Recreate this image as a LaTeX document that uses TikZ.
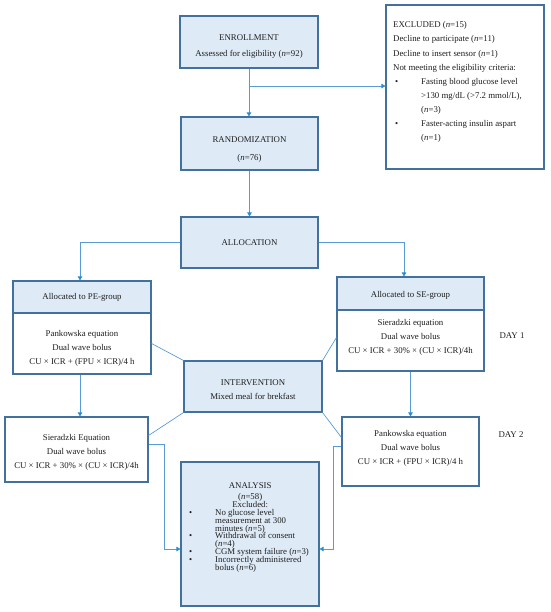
\documentclass[tikz,border=0pt]{standalone}
\usepackage{fontspec}
\setmainfont{Liberation Serif}
\usetikzlibrary{arrows.meta,calc}
\definecolor{boxline}{RGB}{65,113,156}
\definecolor{boxfill}{RGB}{222,235,247}
\definecolor{connc}{RGB}{91,155,213}
\definecolor{tipc}{RGB}{40,140,210}
\definecolor{txtc}{RGB}{30,30,30}
\newcommand\mytightfont{\fontsize{8.8}{7.9}\selectfont\lineskiplimit=-8pt\relax}
\begin{document}
\begin{tikzpicture}[x=1pt,y=-1pt,
  every node/.style={font=\fontsize{8.8}{14}\selectfont, text=txtc},
  bluebox/.style={draw=boxline, line width=1.1pt, fill=boxfill, rectangle, inner sep=0pt},
  whitebox/.style={bluebox, fill=white},
  plain/.style={inner sep=0pt, align=left},
  boxtext/.style={inner sep=0pt, align=center, yshift=-2.5pt},
  conn/.style={draw=connc, line width=0.7pt},
  arr/.style={conn, -{Triangle[width=4.5pt,length=4pt,color=tipc]}}]
\useasboundingbox (0,0) rectangle (550,612);

% boxes
\node[bluebox, minimum width=138pt, minimum height=52pt] (enroll) at (249,42) {};
\node[boxtext] (enrollT) at (249,44)
  {ENROLLMENT\\[2pt]Assessed for eligibility (\textit{n}=92)};
\node[bluebox, minimum width=137pt, minimum height=53pt] (rand) at (249.5,143.5) {};
\node[boxtext] (randT) at (249.5,147)
  {RANDOMIZATION\\[4pt](\textit{n}=76)};
\node[whitebox, minimum width=158pt, minimum height=164pt] (excl) at (465,87) {};
\node[plain, anchor=north west, font=\fontsize{8.8}{14.1}\selectfont] (excltxt) at (393,21.5)
  {EXCLUDED (\textit{n}=15)\\
   Decline to participate (\textit{n}=11)\\
   Decline to insert sensor (\textit{n}=1)\\
   Not meeting the eligibility criteria:\\
   \hspace*{2pt}\makebox[26pt][l]{\textbullet}Fasting blood glucose level\\
   \hspace*{28pt}>130 mg/dL (>7.2 mmol/L),\\
   \hspace*{28pt}(\textit{n}=3)\\
   \hspace*{2pt}\makebox[26pt][l]{\textbullet}Faster-acting insulin aspart\\
   \hspace*{28pt}(\textit{n}=1)};

\node[bluebox, minimum width=137pt, minimum height=51pt] (alloc) at (249.5,242.5) {};
\node[boxtext, yshift=2pt] (allocT) at (alloc) {ALLOCATION};

\node[bluebox, minimum width=138pt, minimum height=32pt] (pehead) at (82,297) {};
\node[boxtext, yshift=2pt] (peheadT) at (pehead) {Allocated to PE-group};
\node[whitebox, minimum width=138pt, minimum height=61pt] (pebody) at (82,343.5) {};
\node[boxtext] (pebodyT) at (82,346)
  {Pankowska equation\\Dual wave bolus\\CU × ICR + (FPU × ICR)/4 h};

\node[bluebox, minimum width=147pt, minimum height=33pt] (sehead) at (410.5,293.5) {};
\node[boxtext, yshift=2pt] (seheadT) at (410.5,295) {Allocated to SE-group};
\node[whitebox, minimum width=147pt, minimum height=61pt] (sebody) at (410.5,340.5) {};
\node[boxtext] (sebodyT) at (410.5,335)
  {Sieradzki equation\\Dual wave bolus\\CU × ICR + 30\% × (CU × ICR)/4h};
\node[plain] (day1) at (512,336) {DAY 1};

\node[bluebox, minimum width=138pt, minimum height=51pt] (interv) at (253,386.5) {};
\node[boxtext] (intervT) at (253,387)
  {INTERVENTION\\Mixed meal for brekfast};

\node[whitebox, minimum width=143pt, minimum height=65pt] (sier2) at (76.5,449.5) {};
\node[boxtext] (sier2T) at (76.5,450)
  {Sieradzki Equation\\Dual wave bolus\\CU × ICR + 30\% × (CU × ICR)/4h};
\node[whitebox, minimum width=137pt, minimum height=69pt] (pank2) at (410.5,451.5) {};
\node[boxtext] (pank2T) at (410.5,446)
  {Pankowska equation\\Dual wave bolus\\CU × ICR + (FPU × ICR)/4 h};
\node[plain] (day2) at (511,435) {DAY 2};

\node[bluebox, minimum width=138pt, minimum height=144pt] (analysis) at (250,534) {};
\node[plain, anchor=north west, font=\mytightfont] (anatxt) at (189,482.5)
  {\makebox[122pt]{ANALYSIS}\\[3pt]
   \makebox[122pt]{(\textit{n}=58)}\\
   \makebox[122pt]{Excluded:}\\
   \makebox[26pt][l]{\textbullet}No glucose level\\
   \hspace*{26pt}measurement at 300\\
   \hspace*{26pt}minutes (\textit{n}=5)\\
   \makebox[26pt][l]{\textbullet}Withdrawal of consent\\
   \hspace*{26pt}(\textit{n}=4)\\
   \makebox[26pt][l]{\textbullet}CGM system failure (\textit{n}=3)\\
   \makebox[26pt][l]{\textbullet}Incorrectly administered\\
   \hspace*{26pt}bolus (\textit{n}=6)};

% connectors
\draw[arr] (enroll.south) -- (enroll.south |- rand.north);
\coordinate (br) at (249,86);
\draw[arr] (br) -- (br -| excl.west);
\draw[arr] (rand.south) -- (rand.south |- alloc.north);
\draw[arr] (alloc.west) -| ([xshift=-2pt]pehead.north);
\draw[arr] (alloc.east) -| ([xshift=-6.5pt]sehead.north);
\draw[arr] ([xshift=-2pt]pebody.south) -- ([xshift=-2pt]pebody.south |- sier2.north);
\draw[arr] (sebody.south) -- (sebody.south |- pank2.north);
\draw[conn] (pebody.east) -- (interv.north west);
\draw[conn] ([yshift=3pt]sebody.west) -- (interv.north east);
\draw[conn] (interv.south west) -- ([yshift=14pt]sier2.east);
\draw[conn] (interv.south east) -- ([yshift=14pt]pank2.west);
\coordinate (lk) at (164,549);
\coordinate (rk) at (333,549);
\draw[arr] ([yshift=5.5pt]sier2.east) -| (lk) -- (lk -| analysis.west);
\draw[arr] ([yshift=5.5pt]pank2.west) -| (rk) -- (rk -| analysis.east);
\end{tikzpicture}
\end{document}
